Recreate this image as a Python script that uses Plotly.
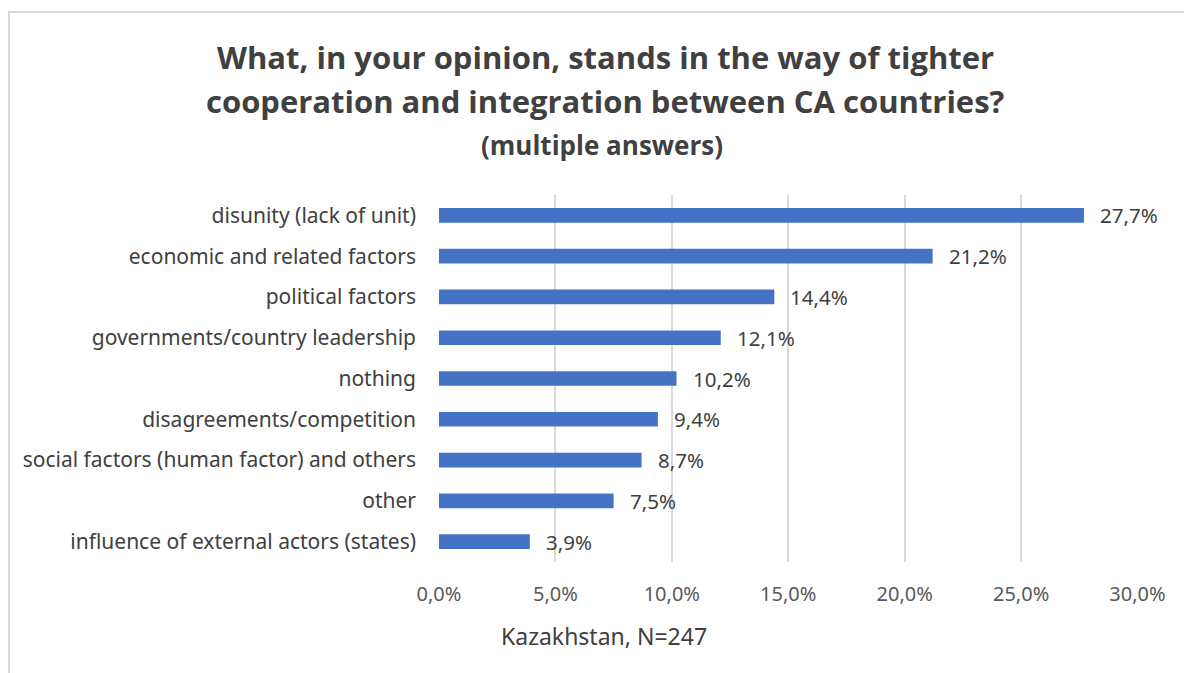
import plotly.graph_objects as go

categories = [
    "disunity (lack of unit)",
    "economic and related factors",
    "political factors",
    "governments/country leadership",
    "nothing",
    "disagreements/competition",
    "social factors (human factor) and others",
    "other",
    "influence of external actors (states)",
]
values = [27.7, 21.2, 14.4, 12.1, 10.2, 9.4, 8.7, 7.5, 3.9]
tick_vals = [0, 5, 10, 15, 20, 25, 30]
tick_text = ["0,0%", "5,0%", "10,0%", "15,0%", "20,0%", "25,0%", "30,0%"]
labels = [f"{v:.1f}%".replace(".", ",") for v in values]

W, H = 1184, 673
L, R, T, B = 439, 46, 195, 111

fig = go.Figure(go.Bar(
    x=values, y=categories, orientation="h",
    marker=dict(color="#4472C4", line=dict(width=0)),
    width=0.36,
))

for c, v, t in zip(categories, values, labels):
    fig.add_annotation(x=v, y=c, text=t, showarrow=False, xanchor="left",
                       yanchor="middle", xshift=14,
                       font=dict(family="Noto Sans", size=20.5, color="#404040"))

fig.update_layout(
    width=W, height=H,
    margin=dict(l=L, r=R, t=T, b=B),
    paper_bgcolor="white", plot_bgcolor="white",
    showlegend=False,
    font=dict(family="Noto Sans", color="#404040"),
    xaxis=dict(range=[0, 30.02], tickvals=tick_vals, ticktext=tick_text,
               showgrid=True, gridcolor="#D9D9D9", gridwidth=2,
               zeroline=False, showline=False, ticks="",
               tickfont=dict(family="Noto Sans", size=20, color="#595959"),
               ticklabelstandoff=18),
    yaxis=dict(autorange="reversed", showgrid=False, showline=False, ticks="",
               tickfont=dict(family="Noto Sans", size=21, color="#404040"),
               ticklabelstandoff=22),
    bargap=0.64,
)

def px(x):
    return (x - L) / (W - L - R)

def py(y):
    return (H - B - y) / (H - T - B)

fig.add_annotation(text="<b>What, in your opinion, stands in the way of tighter</b>",
                   x=px(605), y=py(57), xref="paper", yref="paper", showarrow=False,
                   xanchor="center", yanchor="middle",
                   font=dict(family="Open Sans", size=31, color="#404040"))
fig.add_annotation(text="<b>cooperation and integration between CA countries?</b>",
                   x=px(605), y=py(101), xref="paper", yref="paper", showarrow=False,
                   xanchor="center", yanchor="middle",
                   font=dict(family="Open Sans", size=31, color="#404040"))
fig.add_annotation(text="<b>(multiple answers)</b>",
                   x=px(602), y=py(145), xref="paper", yref="paper", showarrow=False,
                   xanchor="center", yanchor="middle",
                   font=dict(family="Open Sans", size=26, color="#404040"))
fig.add_annotation(text="Kazakhstan, N=247",
                   x=px(604), y=py(636), xref="paper", yref="paper", showarrow=False,
                   xanchor="center", yanchor="middle",
                   font=dict(family="Noto Sans", size=23, color="#404040"))

fig.add_shape(type="rect", xref="paper", yref="paper",
              x0=px(9), x1=px(1190), y0=py(680), y1=py(12),
              line=dict(color="#D9D9D9", width=2), fillcolor="rgba(0,0,0,0)", layer="below")

fig.write_html("out.html")
